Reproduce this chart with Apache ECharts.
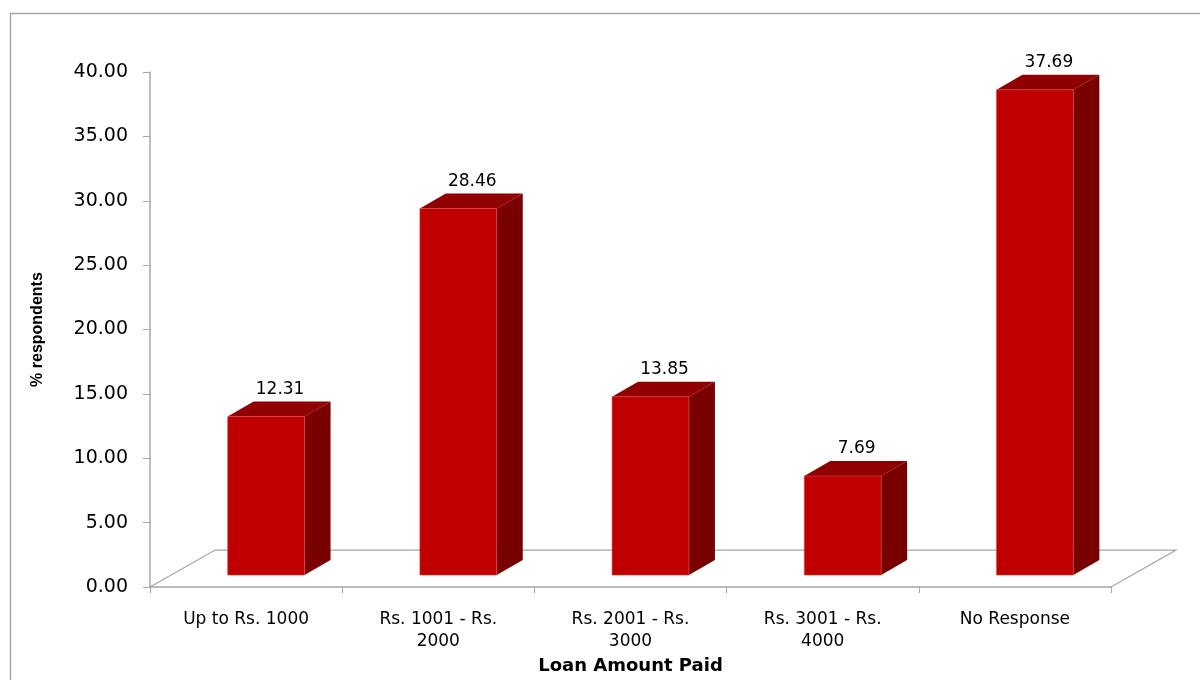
<!DOCTYPE html>
<html>
<head>
<meta charset="utf-8">
<script src="https://cdn.jsdelivr.net/npm/echarts@6/dist/echarts.min.js"></script>
<style>
  html, body { margin: 0; padding: 0; background: #fff; }
  #chart { width: 1200px; height: 680px; }
</style>
</head>
<body>
<div id="chart"></div>
<script>
const categories = ['Up to Rs. 1000', 'Rs. 1001 - Rs.\n2000', 'Rs. 2001 - Rs.\n3000', 'Rs. 3001 - Rs.\n4000', 'No Response'];
const values = [12.31, 28.46, 13.85, 7.69, 37.69];
const yMin = 0, yMax = 40, yStep = 5;
const yAxisTitle = '% respondents';
const xAxisTitle = 'Loan Amount Paid';

const FRONT = '#C00000', TOP = '#900000', SIDE = '#780000';
const SHIFT_X = 20, SHIFT_Y = -12;   // bar placement inside the 3D floor
const DEPTH_X = 26, DEPTH_Y = -15;   // bar depth
const FLOOR_X = 65, FLOOR_Y = -37;   // floor depth

const chart = echarts.init(document.getElementById('chart'), null, { renderer: 'canvas' });

const barData = values.map((v, i) => [i, v]);

chart.setOption({
  animation: false,
  backgroundColor: '#ffffff',
  graphic: [{
    type: 'rect',
    left: 8, top: 11,
    shape: { width: 1400, height: 900 },
    style: { fill: 'none', stroke: '#A6A6A6', lineWidth: 1.5 },
    z: -10
  }],
  grid: { left: 150, right: 89, top: 72, bottom: 88, containLabel: false },
  xAxis: {
    type: 'category',
    data: categories,
    boundaryGap: true,
    name: xAxisTitle,
    nameLocation: 'middle',
    nameGap: 62,
    nameTextStyle: { fontFamily: 'DejaVu Sans', fontWeight: 'bold', fontSize: 18, color: '#000' },
    axisLine: { show: true, lineStyle: { color: '#A6A6A6', width: 1.5 } },
    axisTick: { show: true, length: 6, alignWithLabel: false, lineStyle: { color: '#A6A6A6' } },
    axisLabel: { fontFamily: 'DejaVu Sans', fontSize: 17, color: '#000', margin: 21, lineHeight: 22, interval: 0 },
    splitLine: { show: false }
  },
  yAxis: {
    type: 'value',
    min: yMin, max: yMax, interval: yStep,
    name: yAxisTitle,
    nameLocation: 'middle',
    nameRotate: 90,
    nameGap: 104,
    nameTextStyle: { fontFamily: 'Liberation Sans', fontWeight: 'bold', fontSize: 16, color: '#000' },
    axisLine: { show: true, lineStyle: { color: '#A6A6A6', width: 1.5 } },
    axisTick: { show: true, length: 7, lineStyle: { color: '#A6A6A6' } },
    axisLabel: { fontFamily: 'DejaVu Sans', fontSize: 19, color: '#000', margin: 22, formatter: v => v.toFixed(2) },
    splitLine: { show: false }
  },
  series: [
    {
      type: 'custom',
      name: 'floor',
      z: 1,
      silent: true,
      data: [[0, 0]],
      renderItem: function (params, api) {
        const cs = params.coordSys;
        const bx = cs.x, by = cs.y + cs.height, ex = cs.x + cs.width;
        return {
          type: 'polyline',
          shape: { points: [[bx, by], [bx + FLOOR_X, by + FLOOR_Y], [ex + FLOOR_X, by + FLOOR_Y], [ex, by]] },
          style: { stroke: '#A6A6A6', lineWidth: 1.2, fill: 'none' }
        };
      }
    },
    {
      type: 'custom',
      name: 'bars',
      z: 3,
      data: barData,
      encode: { x: 0, y: 1 },
      renderItem: function (params, api) {
        const i = api.value(0), v = api.value(1);
        const base = api.coord([i, 0]);
        const top = api.coord([i, v]);
        const bw = api.size([1, 0])[0] * 0.4;
        const x0 = base[0] - bw / 2 + SHIFT_X, x1 = x0 + bw;
        const yb = base[1] + SHIFT_Y, yt = top[1] + SHIFT_Y;
        return {
          type: 'group',
          children: [
            { type: 'polygon', shape: { points: [[x1, yt], [x1 + DEPTH_X, yt + DEPTH_Y], [x1 + DEPTH_X, yb + DEPTH_Y], [x1, yb]] }, style: { fill: SIDE } },
            { type: 'polygon', shape: { points: [[x0, yt], [x1, yt], [x1 + DEPTH_X, yt + DEPTH_Y], [x0 + DEPTH_X, yt + DEPTH_Y]] }, style: { fill: TOP } },
            { type: 'rect', shape: { x: x0, y: yt, width: bw, height: yb - yt }, style: { fill: FRONT, stroke: '#D84A4A', lineWidth: 0.6 } },
            { type: 'text', x: x0 + bw / 2 + 14, y: yt - 27, style: { text: v.toFixed(2), fill: '#000', font: '17px "DejaVu Sans"', align: 'center', verticalAlign: 'middle' } }
          ]
        };
      }
    }
  ]
});
</script>
</body>
</html>
